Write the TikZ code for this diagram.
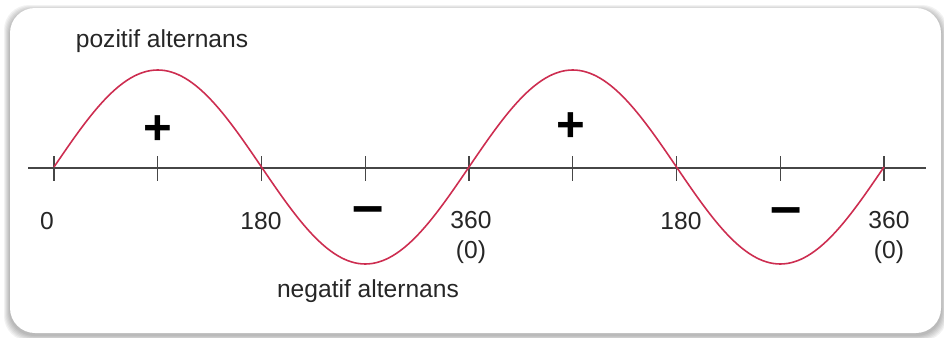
\documentclass[tikz,border=0pt]{standalone}
\usepackage{fontspec}
\setmainfont{Liberation Sans}
\definecolor{wavered}{RGB}{205,45,80}
\definecolor{axisgray}{RGB}{70,70,70}

\begin{document}
\begin{tikzpicture}[
  x=0.02cm, y=-0.02cm,
  frame/.style   = {fill=white, rounded corners=0.5cm},
  halo/.style    = {fill=black, opacity=0.05, rounded corners=0.5cm},
  axis/.style    = {axisgray, line width=1.0pt},
  tick/.style    = {axisgray, line width=0.7pt},
  wave/.style    = {wavered, line width=0.9pt},
  lbl/.style     = {font=\fontsize{14}{17}\selectfont, text=black!85,
                    inner sep=0pt, anchor=north, align=center},
  caption/.style = {font=\fontsize{14}{17}\selectfont, text=black!85,
                    inner sep=0pt, anchor=base},
  sign/.style    = {font=\fontsize{28}{30}\selectfont\bfseries, inner sep=0pt},
  minus/.style   = {font=\fontsize{32}{34}\selectfont\bfseries, inner sep=0pt},
]
  \useasboundingbox (0,0) rectangle (944,338);

  % soft shadow under the card, then the card
  \foreach \d in {1,...,6}
    \fill[halo] (10-\d,11-\d) rectangle (941+\d,335+\d);
  \fill[frame] (10,8) rectangle (941,333);

  \coordinate (axl) at (28,168);
  \coordinate (axr) at (926,168);
  \draw[axis] (axl) -- (axr);

  \foreach \i in {0,...,8}
    \draw[tick] (54+103.75*\i,156) -- (54+103.75*\i,181);

  \draw[wave] plot[domain=54:884, samples=241, smooth]
    (\x,{167-97*sin((\x-54)*0.86747)});

  \node[lbl] (l0)    at (47,212)  {0};
  \node[lbl] (l180a) at (261,212) {180};
  \node[lbl] (l360a) at (471,211) {360\\(0)};
  \node[lbl] (l180b) at (681,212) {180};
  \node[lbl] (l360b) at (889,211) {360\\(0)};

  \node[caption] (pos) at (162,48)  {pozitif alternans};
  \node[caption] (neg) at (368,297) {negatif alternans};

  \node[sign]  (p1) at (158,130) {+};
  \node[sign]  (p2) at (571,127) {+};
  \node[minus] (m1) at (368,216) {\textendash};
  \node[minus] (m2) at (786,217) {\textendash};
\end{tikzpicture}
\end{document}
